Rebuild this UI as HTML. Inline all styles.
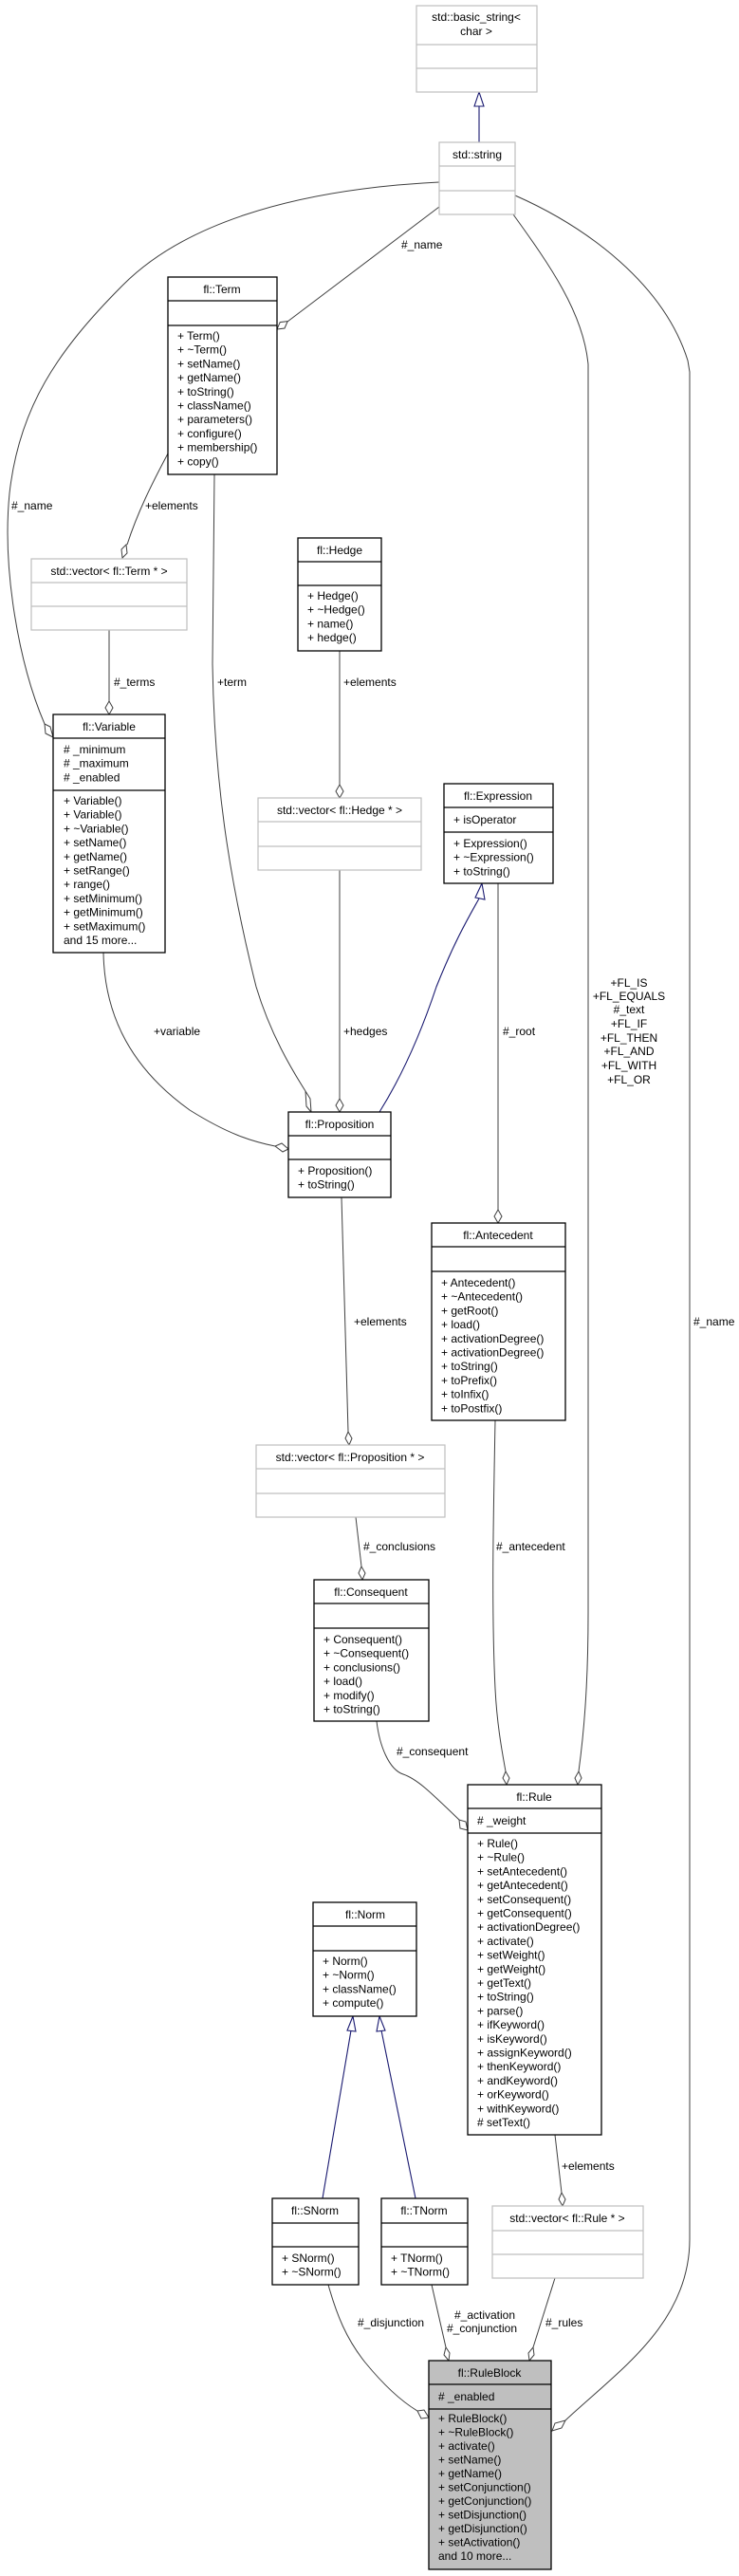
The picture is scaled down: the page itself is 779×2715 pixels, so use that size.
<!DOCTYPE html>
<html><head><meta charset="utf-8">
<style>
html,body{margin:0;padding:0;background:#fff;}
svg{display:block;}
text{font-family:"Liberation Sans",sans-serif;font-size:12px;fill:#000;}
.g{fill:#fff;stroke:#bfbfbf;stroke-width:1.2;}
.b{fill:#fff;stroke:#000;stroke-width:1.3;}
.rb{fill:#bfbfbf;stroke:#000;stroke-width:1.3;}
.gl{stroke:#bfbfbf;stroke-width:1.2;}
.bl{stroke:#000;stroke-width:1.3;}
.e{fill:none;stroke:#404040;stroke-width:1;}
.d{fill:#fff;stroke:#404040;stroke-width:1;}
.i{fill:none;stroke:#191970;stroke-width:1.1;}
.t{fill:#fff;stroke:#191970;stroke-width:1.1;}
</style></head><body>
<svg width="779" height="2715" viewBox="0 0 779 2715" xmlns="http://www.w3.org/2000/svg">

<!-- EDGES -->
<!-- basic_string inheritance -->
<line class="i" x1="505" y1="150" x2="505" y2="112"/>
<polygon class="t" points="505,97 500,112 510,112"/>
<!-- string -> Term -->
<path class="e" d="M463,218 L303,339"/>
<polygon class="d" points="292,347 295.2,339.6 303.2,338.6 300,346"/>
<!-- string -> Variable big curve -->
<path class="e" d="M463,192 C300,200 190,240 130,300 C60,370 20,430 10,520 C2,600 20,700 47,763"/>
<polygon class="d" points="56,777 48,773 47,763 53,766"/>
<!-- Term -> vecTerm -->
<path class="e" d="M177,478 C160,510 145,540 134,574"/>
<polygon class="d" points="129,588 128,579 133,574 134,583"/>
<!-- vecTerm -> Variable -->
<line class="e" x1="115" y1="664" x2="115" y2="739"/>
<polygon class="d" points="115,753 111,746 115,739 119,746"/>
<!-- Term -> Prop -->
<path class="e" d="M226,500 L224,700 C226,820 240,920 270,1040 C285,1090 308,1128 322,1150"/>
<polygon class="d" points="328,1172 323,1166 322,1150 327,1158"/>
<!-- Hedge -> vecHedge -->
<line class="e" x1="358" y1="686" x2="358" y2="827"/>
<polygon class="d" points="358,841 354,834 358,827 362,834"/>
<!-- vecHedge -> Prop -->
<line class="e" x1="358" y1="917" x2="358" y2="1158"/>
<polygon class="d" points="358,1172 354,1165 358,1158 362,1165"/>
<!-- Prop -> Expression inheritance -->
<path class="i" d="M400,1172 C420,1140 440,1100 460,1040 C480,990 495,965 505,947"/>
<polygon class="t" points="508,931 501,946 511,948"/>
<!-- Variable -> Prop -->
<path class="e" d="M109,1004 C110,1060 130,1120 200,1170 C240,1195 265,1203 290,1208"/>
<polygon class="d" points="304,1211 298,1214 290,1208 297,1205"/>
<!-- Expression -> Antecedent -->
<line class="e" x1="525" y1="931" x2="525" y2="1275"/>
<polygon class="d" points="525,1289 521,1282 525,1275 529,1282"/>
<!-- Prop -> vecProp -->
<line class="e" x1="360" y1="1262" x2="367" y2="1509"/>
<polygon class="d" points="368,1523 364,1516 367,1509 371,1516"/>
<!-- vecProp -> Consequent -->
<line class="e" x1="375" y1="1599" x2="381" y2="1651"/>
<polygon class="d" points="382,1665 378,1658 381,1651 385,1658"/>
<!-- Antecedent -> Rule -->
<path class="e" d="M522,1497 C520,1600 518,1700 522,1780 C524,1820 530,1850 533,1867"/>
<polygon class="d" points="534,1881 530,1874 533,1867 537,1874"/>
<!-- string -> Rule -->
<path class="e" d="M541,226 C580,280 615,330 620,384 L620,1700 C620,1780 615,1830 610,1867"/>
<polygon class="d" points="609,1881 606,1874 610,1867 613,1874"/>
<!-- Consequent -> Rule -->
<path class="e" d="M397,1814 C400,1840 410,1865 425,1870 C440,1875 455,1890 484,1918"/>
<polygon class="d" points="493,1929 485,1927 484,1918 491,1920"/>
<!-- string -> RuleBlock -->
<path class="e" d="M543,206 C620,240 700,300 725,380 L727,392 L727,2360 C727,2450 650,2500 596,2551"/>
<polygon class="d" points="582,2562 585,2554 596,2551 592,2559"/>
<!-- Norm -> SNorm -->
<line class="i" x1="340" y1="2317" x2="370" y2="2140"/>
<polygon class="t" points="372,2125 366,2140 375,2141"/>
<!-- Norm -> TNorm -->
<line class="i" x1="438" y1="2317" x2="402" y2="2140"/>
<polygon class="t" points="400,2125 397,2141 406,2140"/>
<!-- Rule -> vecRule -->
<line class="e" x1="585" y1="2250" x2="592" y2="2311"/>
<polygon class="d" points="593,2325 589,2318 592,2311 596,2318"/>
<!-- SNorm -> RuleBlock -->
<path class="e" d="M346,2408 C355,2440 365,2465 385,2490 C408,2518 425,2532 440,2541"/>
<polygon class="d" points="452,2548 444,2549 440,2541 447,2540"/>
<!-- TNorm -> RuleBlock -->
<line class="e" x1="455" y1="2408" x2="470" y2="2474"/>
<polygon class="d" points="473,2488 468,2482 470,2474 474,2480"/>
<!-- vecRule -> RuleBlock -->
<line class="e" x1="585" y1="2401" x2="562" y2="2474"/>
<polygon class="d" points="558,2488 557,2480 562,2474 563,2482"/>

<!-- EDGE LABELS -->
<text x="423" y="262">#_name</text>
<text x="12" y="537">#_name</text>
<text x="153" y="537">+elements</text>
<text x="120" y="723">#_terms</text>
<text x="229" y="723">+term</text>
<text x="362" y="723">+elements</text>
<text x="162" y="1091">+variable</text>
<text x="362" y="1091">+hedges</text>
<text x="530" y="1091">#_root</text>
<text text-anchor="middle" x="663" y="1040">+FL_IS</text>
<text text-anchor="middle" x="663" y="1054">+FL_EQUALS</text>
<text text-anchor="middle" x="663" y="1068">#_text</text>
<text text-anchor="middle" x="663" y="1083">+FL_IF</text>
<text text-anchor="middle" x="663" y="1098">+FL_THEN</text>
<text text-anchor="middle" x="663" y="1112">+FL_AND</text>
<text text-anchor="middle" x="663" y="1127">+FL_WITH</text>
<text text-anchor="middle" x="663" y="1142">+FL_OR</text>
<text x="731" y="1397">#_name</text>
<text x="373" y="1397">+elements</text>
<text x="383" y="1634">#_conclusions</text>
<text x="523" y="1634">#_antecedent</text>
<text x="418" y="1850">#_consequent</text>
<text x="592" y="2287">+elements</text>
<text x="377" y="2452">#_disjunction</text>
<text text-anchor="middle" x="511" y="2444">#_activation</text>
<text text-anchor="middle" x="508" y="2458">#_conjunction</text>
<text x="575" y="2452">#_rules</text>

<!-- NODES -->
<!-- basic_string -->
<rect class="g" x="439" y="6" width="127" height="91"/>
<line class="gl" x1="439" y1="47" x2="566" y2="47"/><line class="gl" x1="439" y1="72" x2="566" y2="72"/>
<text text-anchor="middle" x="502" y="22">std::basic_string&lt;</text>
<text text-anchor="middle" x="502" y="37">char &gt;</text>

<!-- string -->
<rect class="g" x="463" y="150" width="80" height="76"/>
<line class="gl" x1="463" y1="175" x2="543" y2="175"/><line class="gl" x1="463" y1="201" x2="543" y2="201"/>
<text text-anchor="middle" x="503" y="167">std::string</text>

<!-- Term -->
<rect class="b" x="177" y="292" width="115" height="208"/>
<line class="bl" x1="177" y1="317" x2="292" y2="317"/><line class="bl" x1="177" y1="343" x2="292" y2="343"/>
<text text-anchor="middle" x="234" y="309">fl::Term</text>
<text x="187" y="358"><tspan x="187">+ Term()</tspan><tspan x="187" dy="14.7">+ ~Term()</tspan><tspan x="187" dy="14.7">+ setName()</tspan><tspan x="187" dy="14.7">+ getName()</tspan><tspan x="187" dy="14.7">+ toString()</tspan><tspan x="187" dy="14.7">+ className()</tspan><tspan x="187" dy="14.7">+ parameters()</tspan><tspan x="187" dy="14.7">+ configure()</tspan><tspan x="187" dy="14.7">+ membership()</tspan><tspan x="187" dy="14.7">+ copy()</tspan></text>

<!-- vecTerm -->
<rect class="g" x="33" y="589" width="164" height="75"/>
<line class="gl" x1="33" y1="614" x2="197" y2="614"/><line class="gl" x1="33" y1="639" x2="197" y2="639"/>
<text text-anchor="middle" x="115" y="606">std::vector&lt; fl::Term * &gt;</text>

<!-- Hedge -->
<rect class="b" x="314" y="567" width="88" height="119"/>
<line class="bl" x1="314" y1="592" x2="402" y2="592"/><line class="bl" x1="314" y1="617" x2="402" y2="617"/>
<text text-anchor="middle" x="358" y="584">fl::Hedge</text>
<text x="324" y="632"><tspan x="324">+ Hedge()</tspan><tspan x="324" dy="14.7">+ ~Hedge()</tspan><tspan x="324" dy="14.7">+ name()</tspan><tspan x="324" dy="14.7">+ hedge()</tspan></text>

<!-- Variable -->
<rect class="b" x="56" y="753" width="118" height="251"/>
<line class="bl" x1="56" y1="778" x2="174" y2="778"/><line class="bl" x1="56" y1="833" x2="174" y2="833"/>
<text text-anchor="middle" x="115" y="770">fl::Variable</text>
<text x="67" y="794"><tspan x="67"># _minimum</tspan><tspan x="67" dy="14.7"># _maximum</tspan><tspan x="67" dy="14.7"># _enabled</tspan></text>
<text x="67" y="848"><tspan x="67">+ Variable()</tspan><tspan x="67" dy="14.7">+ Variable()</tspan><tspan x="67" dy="14.7">+ ~Variable()</tspan><tspan x="67" dy="14.7">+ setName()</tspan><tspan x="67" dy="14.7">+ getName()</tspan><tspan x="67" dy="14.7">+ setRange()</tspan><tspan x="67" dy="14.7">+ range()</tspan><tspan x="67" dy="14.7">+ setMinimum()</tspan><tspan x="67" dy="14.7">+ getMinimum()</tspan><tspan x="67" dy="14.7">+ setMaximum()</tspan><tspan x="67" dy="14.7">and 15 more...</tspan></text>

<!-- vecHedge -->
<rect class="g" x="272" y="841" width="172" height="76"/>
<line class="gl" x1="272" y1="866" x2="444" y2="866"/><line class="gl" x1="272" y1="892" x2="444" y2="892"/>
<text text-anchor="middle" x="358" y="858">std::vector&lt; fl::Hedge * &gt;</text>

<!-- Expression -->
<rect class="b" x="468" y="826" width="115" height="105"/>
<line class="bl" x1="468" y1="851" x2="583" y2="851"/><line class="bl" x1="468" y1="877" x2="583" y2="877"/>
<text text-anchor="middle" x="525" y="843">fl::Expression</text>
<text x="478" y="868">+ isOperator</text>
<text x="478" y="893"><tspan x="478">+ Expression()</tspan><tspan x="478" dy="14.7">+ ~Expression()</tspan><tspan x="478" dy="14.7">+ toString()</tspan></text>

<!-- Proposition -->
<rect class="b" x="304" y="1172" width="108" height="90"/>
<line class="bl" x1="304" y1="1197" x2="412" y2="1197"/><line class="bl" x1="304" y1="1222" x2="412" y2="1222"/>
<text text-anchor="middle" x="358" y="1189">fl::Proposition</text>
<text x="314" y="1238"><tspan x="314">+ Proposition()</tspan><tspan x="314" dy="14.7">+ toString()</tspan></text>

<!-- Antecedent -->
<rect class="b" x="455" y="1289" width="141" height="208"/>
<line class="bl" x1="455" y1="1314" x2="596" y2="1314"/><line class="bl" x1="455" y1="1340" x2="596" y2="1340"/>
<text text-anchor="middle" x="525" y="1306">fl::Antecedent</text>
<text x="465" y="1356"><tspan x="465">+ Antecedent()</tspan><tspan x="465" dy="14.7">+ ~Antecedent()</tspan><tspan x="465" dy="14.7">+ getRoot()</tspan><tspan x="465" dy="14.7">+ load()</tspan><tspan x="465" dy="14.7">+ activationDegree()</tspan><tspan x="465" dy="14.7">+ activationDegree()</tspan><tspan x="465" dy="14.7">+ toString()</tspan><tspan x="465" dy="14.7">+ toPrefix()</tspan><tspan x="465" dy="14.7">+ toInfix()</tspan><tspan x="465" dy="14.7">+ toPostfix()</tspan></text>

<!-- vecProp -->
<rect class="g" x="270" y="1523" width="199" height="76"/>
<line class="gl" x1="270" y1="1548" x2="469" y2="1548"/><line class="gl" x1="270" y1="1574" x2="469" y2="1574"/>
<text text-anchor="middle" x="369" y="1540">std::vector&lt; fl::Proposition * &gt;</text>

<!-- Consequent -->
<rect class="b" x="331" y="1665" width="121" height="149"/>
<line class="bl" x1="331" y1="1690" x2="452" y2="1690"/><line class="bl" x1="331" y1="1716" x2="452" y2="1716"/>
<text text-anchor="middle" x="391" y="1682">fl::Consequent</text>
<text x="341" y="1732"><tspan x="341">+ Consequent()</tspan><tspan x="341" dy="14.7">+ ~Consequent()</tspan><tspan x="341" dy="14.7">+ conclusions()</tspan><tspan x="341" dy="14.7">+ load()</tspan><tspan x="341" dy="14.7">+ modify()</tspan><tspan x="341" dy="14.7">+ toString()</tspan></text>

<!-- Rule -->
<rect class="b" x="493" y="1881" width="141" height="369"/>
<line class="bl" x1="493" y1="1906" x2="634" y2="1906"/><line class="bl" x1="493" y1="1932" x2="634" y2="1932"/>
<text text-anchor="middle" x="563" y="1898">fl::Rule</text>
<text x="503" y="1923"># _weight</text>
<text x="503" y="1947"><tspan x="503">+ Rule()</tspan><tspan x="503" dy="14.7">+ ~Rule()</tspan><tspan x="503" dy="14.7">+ setAntecedent()</tspan><tspan x="503" dy="14.7">+ getAntecedent()</tspan><tspan x="503" dy="14.7">+ setConsequent()</tspan><tspan x="503" dy="14.7">+ getConsequent()</tspan><tspan x="503" dy="14.7">+ activationDegree()</tspan><tspan x="503" dy="14.7">+ activate()</tspan><tspan x="503" dy="14.7">+ setWeight()</tspan><tspan x="503" dy="14.7">+ getWeight()</tspan><tspan x="503" dy="14.7">+ getText()</tspan><tspan x="503" dy="14.7">+ toString()</tspan><tspan x="503" dy="14.7">+ parse()</tspan><tspan x="503" dy="14.7">+ ifKeyword()</tspan><tspan x="503" dy="14.7">+ isKeyword()</tspan><tspan x="503" dy="14.7">+ assignKeyword()</tspan><tspan x="503" dy="14.7">+ thenKeyword()</tspan><tspan x="503" dy="14.7">+ andKeyword()</tspan><tspan x="503" dy="14.7">+ orKeyword()</tspan><tspan x="503" dy="14.7">+ withKeyword()</tspan><tspan x="503" dy="14.7"># setText()</tspan></text>

<!-- Norm -->
<rect class="b" x="330" y="2005" width="109" height="120"/>
<line class="bl" x1="330" y1="2030" x2="439" y2="2030"/><line class="bl" x1="330" y1="2056" x2="439" y2="2056"/>
<text text-anchor="middle" x="385" y="2022">fl::Norm</text>
<text x="340" y="2071"><tspan x="340">+ Norm()</tspan><tspan x="340" dy="14.7">+ ~Norm()</tspan><tspan x="340" dy="14.7">+ className()</tspan><tspan x="340" dy="14.7">+ compute()</tspan></text>

<!-- SNorm -->
<rect class="b" x="287" y="2317" width="91" height="91"/>
<line class="bl" x1="287" y1="2343" x2="378" y2="2343"/><line class="bl" x1="287" y1="2368" x2="378" y2="2368"/>
<text text-anchor="middle" x="332" y="2334">fl::SNorm</text>
<text x="297" y="2384"><tspan x="297">+ SNorm()</tspan><tspan x="297" dy="14.7">+ ~SNorm()</tspan></text>

<!-- TNorm -->
<rect class="b" x="402" y="2317" width="91" height="91"/>
<line class="bl" x1="402" y1="2343" x2="493" y2="2343"/><line class="bl" x1="402" y1="2368" x2="493" y2="2368"/>
<text text-anchor="middle" x="447" y="2334">fl::TNorm</text>
<text x="412" y="2384"><tspan x="412">+ TNorm()</tspan><tspan x="412" dy="14.7">+ ~TNorm()</tspan></text>

<!-- vecRule -->
<rect class="g" x="519" y="2325" width="159" height="76"/>
<line class="gl" x1="519" y1="2351" x2="678" y2="2351"/><line class="gl" x1="519" y1="2376" x2="678" y2="2376"/>
<text text-anchor="middle" x="598" y="2342">std::vector&lt; fl::Rule * &gt;</text>

<!-- RuleBlock -->
<rect class="rb" x="452" y="2488" width="129" height="220"/>
<line class="bl" x1="452" y1="2513" x2="581" y2="2513"/><line class="bl" x1="452" y1="2539" x2="581" y2="2539"/>
<text text-anchor="middle" x="516" y="2505">fl::RuleBlock</text>
<text x="462" y="2530"># _enabled</text>
<text x="462" y="2553"><tspan x="462">+ RuleBlock()</tspan><tspan x="462" dy="14.5">+ ~RuleBlock()</tspan><tspan x="462" dy="14.5">+ activate()</tspan><tspan x="462" dy="14.5">+ setName()</tspan><tspan x="462" dy="14.5">+ getName()</tspan><tspan x="462" dy="14.5">+ setConjunction()</tspan><tspan x="462" dy="14.5">+ getConjunction()</tspan><tspan x="462" dy="14.5">+ setDisjunction()</tspan><tspan x="462" dy="14.5">+ getDisjunction()</tspan><tspan x="462" dy="14.5">+ setActivation()</tspan><tspan x="462" dy="14.5">and 10 more...</tspan></text>

</svg>
</body></html>
